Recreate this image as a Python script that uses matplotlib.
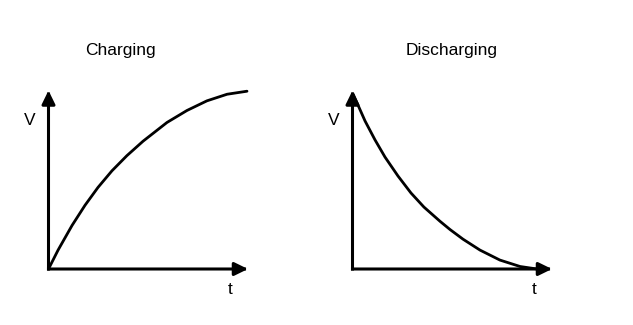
import matplotlib
matplotlib.use("Agg")
import matplotlib.pyplot as plt

plt.rcParams['font.family'] = ['Liberation Sans', 'DejaVu Sans']

# Data (normalised: t from 0 to 1 at the arrow tip, V from 0 to 1 at the arrow tip)
charge_t = [0.0, 0.048, 0.118, 0.183, 0.248, 0.318, 0.393, 0.474, 0.594, 0.694, 0.794, 0.895, 0.995]
charge_v = [0.0, 0.106, 0.244, 0.357, 0.457, 0.550, 0.635, 0.716, 0.821, 0.888, 0.942, 0.979, 0.996]

discharge_t = [0.003, 0.063, 0.113, 0.163, 0.228, 0.293, 0.358, 0.439, 0.489, 0.554, 0.639, 0.739, 0.840, 0.925]
discharge_v = [0.980, 0.829, 0.723, 0.627, 0.521, 0.426, 0.347, 0.267, 0.221, 0.167, 0.106, 0.050, 0.014, 0.0]

titles = ["Charging", "Discharging"]
ylabel = "V"
xlabel = "t"

fig = plt.figure(figsize=(6.33, 3.25), dpi=100)

positions = [[48.5/633, 56/325, 199.5/633, 178.5/325],
             [352.5/633, 56/325, 199.5/633, 178.5/325]]
title_x = [120/633, 452/633]
series = [(charge_t, charge_v), (discharge_t, discharge_v)]

arrow_kw = dict(arrowstyle='-|>,head_length=0.45,head_width=0.22',
                lw=2.2, color='black', mutation_scale=18,
                shrinkA=0, shrinkB=0, capstyle='projecting')

for pos, (ts, vs), title, tx in zip(positions, series, titles, title_x):
    ax = fig.add_axes(pos)
    ax.set_xlim(0, 1)
    ax.set_ylim(0, 1)
    ax.axis('off')
    ax.plot(ts, vs, color='black', lw=2.0, solid_joinstyle='round',
            solid_capstyle='round', clip_on=False, zorder=3)
    ax.annotate('', xy=(1, 0), xytext=(0, 0), xycoords='data',
                arrowprops=arrow_kw, annotation_clip=False)
    ax.annotate('', xy=(0, 1), xytext=(0, 0), xycoords='data',
                arrowprops=arrow_kw, annotation_clip=False)
    ax.text(-0.095, 0.83, ylabel, transform=ax.transAxes, fontsize=12.5,
            ha='center', va='center')
    ax.text(0.91, -0.117, xlabel, transform=ax.transAxes, fontsize=12.5,
            ha='center', va='center')
    fig.text(tx, 275/325, title, fontsize=12.5, ha='center', va='center')

fig.savefig('out.png', dpi=100, facecolor='white')
